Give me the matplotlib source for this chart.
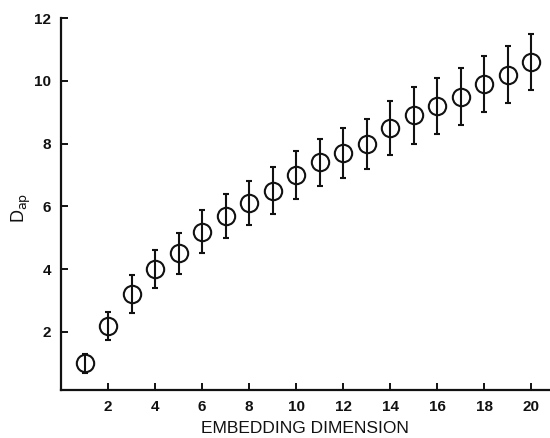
import matplotlib
matplotlib.use("Agg")
import matplotlib.pyplot as plt

dims = list(range(1, 21))
d_ap = [1.0, 2.2, 3.2, 4.0, 4.5, 5.2, 5.7, 6.1, 6.5, 7.0, 7.4, 7.7, 8.0, 8.5, 8.9, 9.2, 9.5, 9.9, 10.2, 10.6]
err = [0.3, 0.45, 0.6, 0.6, 0.65, 0.7, 0.7, 0.7, 0.75, 0.77, 0.75, 0.8, 0.8, 0.85, 0.9, 0.9, 0.9, 0.9, 0.9, 0.9]
xticks = [2, 4, 6, 8, 10, 12, 14, 16, 18, 20]
yticks = [2, 4, 6, 8, 10, 12]

plt.rcParams['font.family'] = ['Liberation Sans', 'DejaVu Sans']
fig = plt.figure(figsize=(5.5, 4.38), dpi=100)
ax = fig.add_axes([0.111, 0.1096, 0.887, 0.849])
ax.errorbar(dims, d_ap, yerr=err, fmt='o', mfc='none', mec='#111111', ecolor='#111111',
            ms=12.5, mew=1.5, elinewidth=1.5, capsize=2.2, capthick=1.5, zorder=3)
ax.set_xlim(0, 20.75)
ax.set_ylim(0.15, 12)
ax.set_xticks(xticks)
ax.set_yticks(yticks)
for s in ['top', 'right']:
    ax.spines[s].set_visible(False)
for s in ['left', 'bottom']:
    ax.spines[s].set_linewidth(1.6)
    ax.spines[s].set_color('#111111')
ax.tick_params(direction='in', length=5, width=1.4, labelsize=11, colors='#111111', pad=7)
for lab in ax.get_xticklabels() + ax.get_yticklabels():
    lab.set_fontweight('bold')
ax.set_xlabel('EMBEDDING DIMENSION', fontsize=12.5, labelpad=5, color='#111111')
ax.set_ylabel(r'D$_{\mathrm{ap}}$', fontsize=13, color='#111111')
ax.yaxis.set_label_coords(-0.058, 0.49)
fig.savefig('out.png', dpi=100)
